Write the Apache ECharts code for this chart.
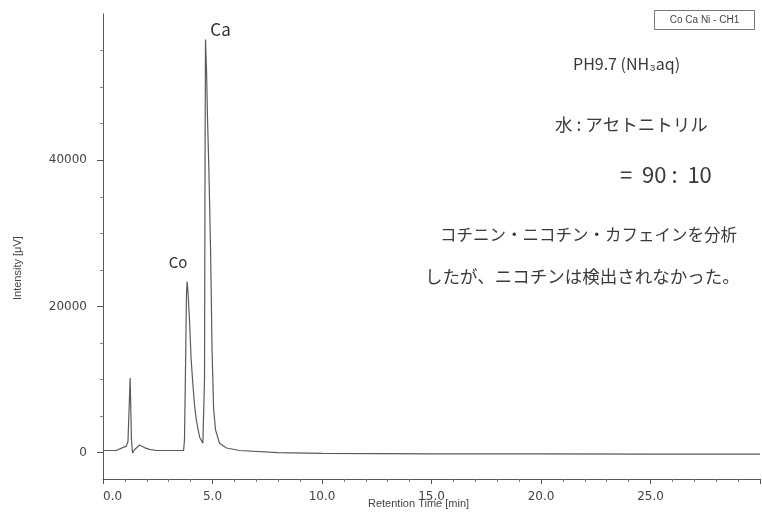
<!DOCTYPE html>
<html>
<head>
<meta charset="utf-8">
<script src="https://cdn.jsdelivr.net/npm/echarts@6/dist/echarts.min.js"></script>
<style>html,body{margin:0;padding:0;background:#fff;}#c{width:762px;height:520px;}</style>
</head>
<body>
<div id="c"></div>
<script>
// Retention time (min) and intensity (µV)
const times = [0, 0.6, 1.06, 1.14, 1.24, 1.30, 1.35, 1.44, 1.67, 1.89, 2.12, 2.44, 3.68, 3.72, 3.77, 3.81, 3.84, 3.88, 3.95, 4.02, 4.10, 4.18, 4.26, 4.41, 4.56, 4.61, 4.635, 4.66, 4.68, 4.73, 4.77, 4.84, 4.91, 4.98, 5.05, 5.14, 5.32, 5.64, 6.23, 8.0, 10.0, 15.0, 20.0, 25.0, 30.0];
const intensity = [300, 300, 900, 1500, 10200, 1700, -50, 400, 1050, 700, 450, 300, 300, 1700, 12000, 21500, 23400, 22000, 18100, 13000, 9500, 6500, 4470, 2150, 1300, 1500, 10000, 40000, 56500, 52000, 46000, 38000, 28000, 14000, 6000, 3100, 1300, 640, 300, 0, -100, -150, -150, -200, -200];
const yLabelValues = [0, 20000, 40000];
const yMinorValues = [5000, 10000, 15000, 25000, 30000, 35000, 45000, 50000, 55000];
const xTitle = 'Retention Time [min]';
const yTitle = 'Intensity [μV]';
const legendText = 'Co Ca Ni - CH1';
const peakLabels = ['Co', 'Ca'];
const notes = ['PH9.7 (NH₃aq)', '水 : アセトニトリル', '=  90 :  10', 'コチニン・ニコチン・カフェインを分析', 'したが、ニコチンは検出されなかった。'];

const chart = echarts.init(document.getElementById('c'), null, {renderer: 'canvas'});
const axisColor = '#555';
const textColor = '#444';
const hand = '"Noto Sans CJK JP", sans-serif';

chart.setOption({
  animation: false,
  backgroundColor: '#ffffff',
  grid: {left: 103, right: 2, top: 14, bottom: 41, containLabel: false},
  xAxis: {
    type: 'value', min: 0, max: 30, interval: 5,
    axisLine: {show: true, onZero: false, lineStyle: {color: axisColor, width: 1}},
    axisTick: {show: true, length: 5, lineStyle: {color: axisColor}},
    minorTick: {show: true, splitNumber: 5, length: 3, lineStyle: {color: '#777'}},
    splitLine: {show: false},
    axisLabel: {
      color: textColor, fontFamily: 'DejaVu Sans', fontSize: 12, margin: 12,
      showMaxLabel: false, alignMinLabel: 'left',
      formatter: v => v.toFixed(1)
    }
  },
  yAxis: [{
    type: 'value', min: -3600, max: 60000,
    axisLine: {show: true, onZero: false, lineStyle: {color: axisColor, width: 1}},
    axisTick: {show: true, length: 6, customValues: yLabelValues, lineStyle: {color: axisColor}},
    splitLine: {show: false},
    axisLabel: {color: textColor, fontFamily: 'DejaVu Sans', fontSize: 12, margin: 16, customValues: yLabelValues, formatter: v => String(v)}
  }, {
    type: 'value', min: -3600, max: 60000, position: 'left',
    axisLine: {show: false},
    axisTick: {show: true, length: 3, customValues: yMinorValues, lineStyle: {color: '#888'}},
    axisLabel: {show: false},
    splitLine: {show: false}
  }],
  series: [{
    type: 'line',
    data: times.map((t, i) => [t, intensity[i]]),
    showSymbol: false,
    lineStyle: {color: '#5a5a5a', width: 1.2},
    markPoint: {
      symbol: 'circle', symbolSize: 0,
      data: [
        {coord: [3.84, 23400], label: {show: true, formatter: peakLabels[0], offset: [-9, -19], color: '#333', fontFamily: hand, fontSize: 15}},
        {coord: [4.68, 56500], label: {show: true, formatter: peakLabels[1], offset: [15, -10], color: '#333', fontFamily: hand, fontSize: 17}}
      ]
    }
  }],
  graphic: [
    {type: 'text', left: 420 - 52, top: 498, style: {text: xTitle, font: '11px "Liberation Sans"', fill: textColor}},
    {type: 'text', x: 12, y: 300, rotation: Math.PI / 2, style: {text: yTitle, font: '11px "Liberation Sans"', fill: textColor}},
    {type: 'group', left: 654, top: 10, children: [
      {type: 'rect', shape: {x: 0, y: 0, width: 100, height: 19}, style: {fill: '#fff', stroke: '#777', lineWidth: 1}},
      {type: 'text', x: 50, y: 10, style: {text: legendText, font: '10px "Liberation Sans"', fill: '#444', align: 'center', verticalAlign: 'middle'}}
    ]},
    {type: 'text', left: 573, top: 56, style: {text: notes[0], font: '16px ' + hand, fill: '#3a3a3a'}},
    {type: 'text', left: 555, top: 116, style: {text: notes[1], font: '17.5px ' + hand, fill: '#3a3a3a'}},
    {type: 'text', left: 620, top: 164, style: {text: notes[2], font: '22px ' + hand, fill: '#3a3a3a'}},
    {type: 'text', left: 440, top: 226, style: {text: notes[3], font: '16.5px ' + hand, fill: '#3a3a3a'}},
    {type: 'text', left: 425, top: 268, style: {text: notes[4], font: '17.5px ' + hand, fill: '#3a3a3a'}}
  ]
});
</script>
</body>
</html>
